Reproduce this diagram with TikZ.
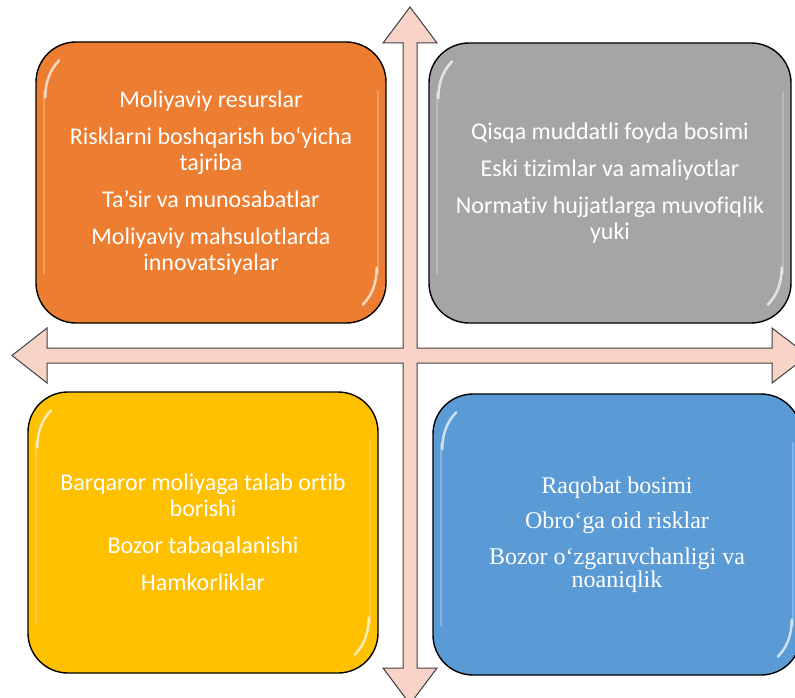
\documentclass[tikz,border=0pt]{standalone}
\usepackage{fontspec}
\setmainfont{Carlito}[RawFeature={-liga;-clig}]
\newfontfamily\timesf{Liberation Serif}
\usetikzlibrary{calc}
\definecolor{arrowfill}{HTML}{F8D4C8}
\definecolor{arrowline}{HTML}{404040}
\definecolor{qorange}{HTML}{ED7D31}
\definecolor{qgray}{HTML}{A5A5A5}
\definecolor{qyellow}{HTML}{FFC000}
\definecolor{qblue}{HTML}{5B9BD5}
\tikzset{
  quad/.style={draw=black, line width=1.4pt, rounded corners=40pt, text=white,
    align=center, inner sep=0pt, font=\fontsize{24}{26}\selectfont},
  hlline/.style={draw=white, opacity=0.25, line width=2pt, line cap=round},
  hlspot/.style={draw=white, opacity=0.7, line width=2.5pt, line cap=round},
  bigarrow/.style={fill=arrowfill, draw=arrowline, line width=1pt, line join=miter}
}
\newcommand\glossit[1]{%
  \draw[hlline] ($(#1.north west)+(9,50)$) -- ($(#1.south west)+(9,-50)$);
  \draw[hlline] ($(#1.north east)+(-9,50)$) -- ($(#1.south east)+(-9,-50)$);
  \draw[hlspot] ($(#1.north west)+(10,56)$) .. controls ($(#1.north west)+(10,40)$) and ($(#1.north west)+(15,28)$) .. ($(#1.north west)+(24,19)$);
  \draw[hlspot] ($(#1.south east)+(-10,-56)$) .. controls ($(#1.south east)+(-10,-40)$) and ($(#1.south east)+(-15,-28)$) .. ($(#1.south east)+(-24,-19)$);
}
\begin{document}
\begin{tikzpicture}[x=1pt,y=-1pt]
\useasboundingbox (0,0) rectangle (795,698);
\clip (0,0) rectangle (795,698);
% cross of four arrows
\path[bigarrow] (410,7) -- (437,43) -- (417,43) -- (417,348) -- (772,348) -- (772,328)
  -- (808,355.5) -- (772,383) -- (772,363) -- (417,363) -- (417,668) -- (437,668)
  -- (410,704) -- (383,668) -- (403,668) -- (403,363) -- (47,363) -- (47,383)
  -- (12,355.5) -- (47,328) -- (47,348) -- (403,348) -- (403,43) -- (383,43) -- cycle;
% quadrants
\node[quad, fill=qorange, minimum width=350pt, minimum height=281pt] (q1) at (211,182.5)
  {Moliyaviy resurslar\\[11pt]Risklarni boshqarish bo‘yicha\\tajriba\\[11pt]Ta’sir va munosabatlar\\[11pt]Moliyaviy mahsulotlarda\\innovatsiyalar};
\node[quad, fill=qgray, minimum width=362pt, minimum height=280pt] (q2) at (610,183)
  {Qisqa muddatli foyda bosimi\\[11pt]Eski tizimlar va amaliyotlar\\[11pt]Normativ hujjatlarga muvofiqlik\\yuki};
\node[quad, fill=qyellow, minimum width=350pt, minimum height=281pt] (q3) at (203,532.5)
  {Barqaror moliyaga talab ortib\\borishi\\[11pt]Bozor tabaqalanishi\\[11pt]Hamkorliklar};
\node[quad, fill=qblue, minimum width=368pt, minimum height=281pt,
  font=\timesf\fontsize{24}{23.5}\selectfont] (q4) at (617,534.5)
  {Raqobat bosimi\\[12pt]Obro‘ga oid risklar\\[12pt]Bozor o‘zgaruvchanligi va\\noaniqlik};
\glossit{q1}
\glossit{q2}
\glossit{q3}
\glossit{q4}
\end{tikzpicture}
\end{document}
